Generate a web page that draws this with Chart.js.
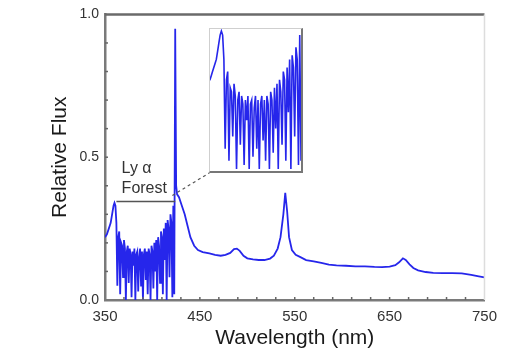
<!DOCTYPE html>
<html>
<head>
<meta charset="utf-8">
<script src="https://cdn.jsdelivr.net/npm/chart.js@4/dist/chart.umd.min.js"></script>
<style>
  body { margin: 0; background: #fff; }
  #wrap { position: relative; width: 505px; height: 360px; }
  #inset-box {
    position: absolute; left: 209px; top: 28px; width: 91px; height: 142px;
    border-top: 1px solid #cfcfcf; border-left: 1px solid #cfcfcf;
    border-right: 2px solid #777; border-bottom: 2px solid #777; background: #fff;
  }
</style>
</head>
<body>
<div id="wrap">
  <canvas id="spectrum" width="505" height="360"></canvas>
  <div id="inset-box"><canvas id="inset" width="91" height="142"></canvas></div>
</div>
<script>
// Ly-alpha forest, sampled every 1 nm (350 - 424)
const forestNm = [];
for (let w = 350; w <= 424; w++) forestNm.push(w);
const forestFlux = [
  0.22, 0.22, 0.23, 0.24, 0.25, 0.26, 0.27, 0.29, 0.31, 0.33,
  0.34, 0.33, 0.27, 0.05, 0.22, 0.24, 0.02, 0.20, 0.19, 0.08,
  0.21, 0.18, 0.00, 0.17, 0.19, 0.06, 0.18, 0.16, 0.01, 0.17,
  0.12, 0.18, 0.00, 0.16, 0.17, 0.03, 0.15, 0.18, 0.05, 0.17,
  0.00, 0.16, 0.18, 0.07, 0.17, 0.02, 0.18, 0.16, 0.00, 0.19,
  0.17, 0.04, 0.20, 0.10, 0.21, 0.00, 0.22, 0.19, 0.06, 0.24,
  0.22, 0.02, 0.25, 0.14, 0.27, 0.00, 0.28, 0.25, 0.08, 0.30,
  0.27, 0.01, 0.33, 0.02, 0.95
];
// emission lines and continuum redward of Ly-alpha
const contNm = [425, 426, 428, 431, 434, 437, 440, 444, 448, 453, 460, 466, 472, 477, 482,
  486, 489, 492, 496, 500, 506, 512, 518, 524, 528, 532, 535, 538, 540, 542, 544, 547, 551,
  556, 562, 570, 578, 586, 594, 604, 614, 624, 634, 642, 650, 656, 660, 664, 667, 671, 675,
  680, 688, 696, 706, 716, 726, 736, 744, 750];
const contFlux = [0.40, 0.37, 0.36, 0.33, 0.30, 0.26, 0.22, 0.19, 0.175, 0.168, 0.163, 0.158, 0.155, 0.158, 0.165,
  0.178, 0.18, 0.172, 0.155, 0.146, 0.142, 0.140, 0.140, 0.145, 0.155, 0.18, 0.22, 0.30, 0.375, 0.31, 0.22, 0.175, 0.158,
  0.150, 0.140, 0.135, 0.130, 0.124, 0.121, 0.120, 0.118, 0.118, 0.116, 0.115, 0.117, 0.122, 0.132, 0.146, 0.140, 0.125, 0.112,
  0.104, 0.098, 0.095, 0.094, 0.094, 0.093, 0.088, 0.083, 0.079];

const xTicks = [350, 450, 550, 650, 750];
const yTicks = [0, 0.5, 1.0];

const wavelength = forestNm.concat(contNm);
const flux = forestFlux.concat(contFlux);
const points = wavelength.map((w, i) => ({ x: w, y: flux[i] }));

const lineColor = 'rgb(38, 38, 235)';
const fontFamily = "'Liberation Sans', Arial, sans-serif";

function line(ctx, x1, y1, x2, y2) {
  ctx.beginPath();
  ctx.moveTo(x1, y1);
  ctx.lineTo(x2, y2);
  ctx.stroke();
}

// frame, inward minor ticks and the Ly alpha forest annotation
const decor = {
  id: 'decor',
  afterDraw(chart) {
    const { ctx, chartArea: a, scales: { x, y } } = chart;
    ctx.save();
    ctx.strokeStyle = '#6a6a6a';
    ctx.lineWidth = 2.5;
    line(ctx, a.left, a.top, a.right, a.top);
    ctx.strokeStyle = '#dddddd';
    ctx.lineWidth = 1.5;
    line(ctx, a.right, a.top, a.right, a.bottom);

    ctx.strokeStyle = '#666';
    ctx.lineWidth = 1.5;
    for (let v = 370; v < 750; v += 20) {
      const px = x.getPixelForValue(v);
      line(ctx, px, a.bottom, px, a.bottom - 3);
    }
    for (let k = 1; k < 10; k++) {
      const py = y.getPixelForValue(k / 10);
      line(ctx, a.left, py, a.left + 3, py);
    }

    // bracket over the forest
    ctx.strokeStyle = '#555';
    ctx.lineWidth = 1.5;
    line(ctx, x.getPixelForValue(362), y.getPixelForValue(0.345),
      x.getPixelForValue(424), y.getPixelForValue(0.345));
    ctx.setLineDash([3, 3]);
    ctx.lineWidth = 1.2;
    line(ctx, x.getPixelForValue(421), y.getPixelForValue(0.366),
      x.getPixelForValue(460), y.getPixelForValue(0.445));
    ctx.setLineDash([]);

    ctx.fillStyle = '#333';
    ctx.font = '16px ' + fontFamily;
    ctx.textAlign = 'left';
    ctx.textBaseline = 'middle';
    ctx.fillText('Ly α', x.getPixelForValue(367.5), y.getPixelForValue(0.46));
    ctx.fillText('Forest', x.getPixelForValue(367.5), y.getPixelForValue(0.39));
    ctx.restore();
  }
};

new Chart(document.getElementById('spectrum'), {
  type: 'line',
  data: {
    datasets: [{
      data: points,
      borderColor: lineColor,
      borderWidth: 1.8,
      pointRadius: 0,
      tension: 0
    }]
  },
  options: {
    responsive: false,
    animation: false,
    devicePixelRatio: 1,
    layout: { padding: { top: 13, right: 17, left: 0, bottom: 0 } },
    plugins: { legend: { display: false }, tooltip: { enabled: false } },
    scales: {
      x: {
        type: 'linear',
        min: 350,
        max: 750,
        grid: { display: false, drawTicks: false },
        border: { display: true, color: '#7a7a7a', width: 2.5 },
        afterBuildTicks: s => { s.ticks = xTicks.map(v => ({ value: v })); },
        afterFit: s => { s.height = 60; },
        ticks: { padding: 8, color: '#333', font: { family: fontFamily, size: 15 }, maxRotation: 0 },
        title: {
          display: true,
          text: 'Wavelength (nm)',
          color: '#1a1a1a',
          font: { family: fontFamily, size: 21 },
          padding: { top: 0, bottom: 9 }
        }
      },
      y: {
        min: 0,
        max: 1,
        grid: { display: false, drawTicks: false },
        border: { display: true, color: '#7a7a7a', width: 2.5 },
        afterBuildTicks: s => { s.ticks = yTicks.map(v => ({ value: v })); },
        afterFit: s => { s.width = 105; },
        ticks: {
          padding: 6,
          color: '#333',
          font: { family: fontFamily, size: 14 },
          callback: v => v.toFixed(1)
        },
        title: {
          display: true,
          text: 'Relative Flux',
          color: '#1a1a1a',
          font: { family: fontFamily, size: 21 },
          padding: { top: 48, bottom: 0 }
        }
      }
    }
  },
  plugins: [decor]
});

// zoomed view of the forest
new Chart(document.getElementById('inset'), {
  type: 'line',
  data: {
    datasets: [{
      data: points,
      borderColor: lineColor,
      borderWidth: 1.6,
      pointRadius: 0,
      tension: 0
    }]
  },
  options: {
    responsive: false,
    animation: false,
    devicePixelRatio: 1,
    layout: { padding: 0 },
    plugins: { legend: { display: false }, tooltip: { enabled: false } },
    scales: {
      x: { type: 'linear', min: 351, max: 423, display: false },
      y: { min: -0.005, max: 0.345, display: false }
    }
  }
});
</script>
</body>
</html>
